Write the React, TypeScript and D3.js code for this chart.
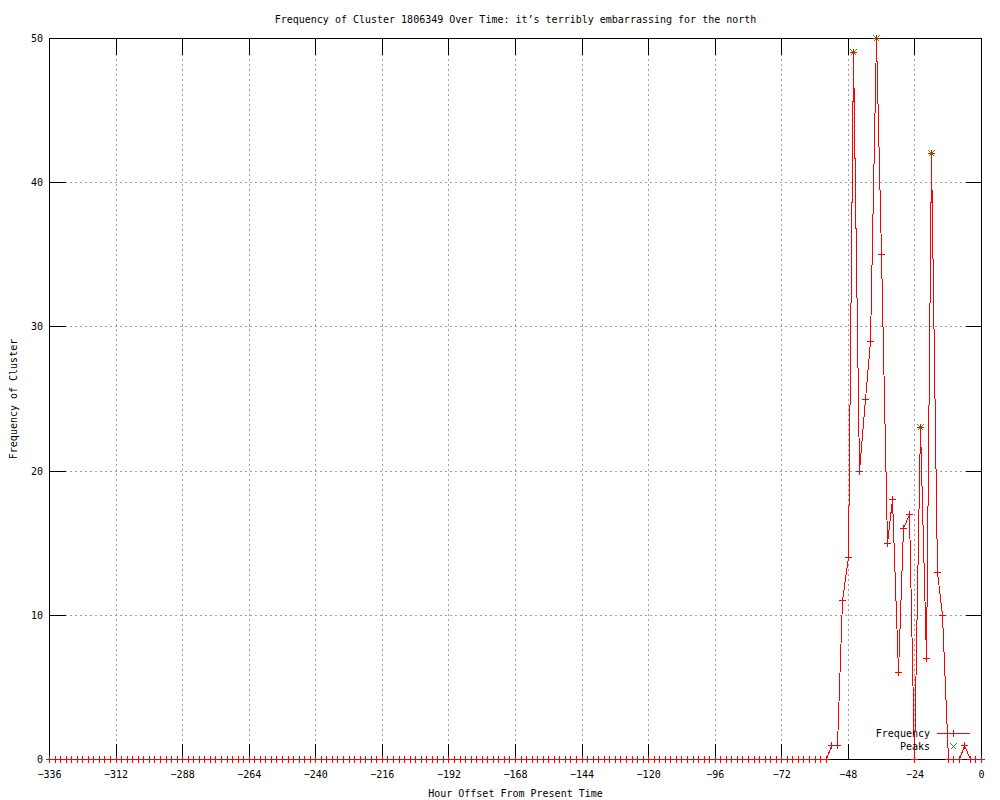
import { useRef, useEffect, RefObject } from 'react';
import * as d3 from 'd3';

// hours before now, sampled every 2 hours
const hours: number[] = d3.range(-336, 1, 2);

// cluster frequency per 2-hour bucket, -336 .. 0
const frequency: number[] = [
  0, 0, 0, 0, 0, 0, 0, 0, 0, 0, 0, 0,
  0, 0, 0, 0, 0, 0, 0, 0, 0, 0, 0, 0,
  0, 0, 0, 0, 0, 0, 0, 0, 0, 0, 0, 0,
  0, 0, 0, 0, 0, 0, 0, 0, 0, 0, 0, 0,
  0, 0, 0, 0, 0, 0, 0, 0, 0, 0, 0, 0,
  0, 0, 0, 0, 0, 0, 0, 0, 0, 0, 0, 0,
  0, 0, 0, 0, 0, 0, 0, 0, 0, 0, 0, 0,
  0, 0, 0, 0, 0, 0, 0, 0, 0, 0, 0, 0,
  0, 0, 0, 0, 0, 0, 0, 0, 0, 0, 0, 0,
  0, 0, 0, 0, 0, 0, 0, 0, 0, 0, 0, 0,
  0, 0, 0, 0, 0, 0, 0, 0, 0, 0, 0, 0,
  0, 0, 0, 0, 0, 0, 0, 0, 0, 1, 1, 11,
  14, 49, 20, 25, 29, 50, 35, 15, 18, 6, 16, 17,
  0, 23, 7, 42, 13, 10, 0, 0, 0, 1, 0, 0,
  0,
];

const peakHours: number[] = [-46, -38, -22, -18];
const peakValues: number[] = [49, 50, 23, 42];

const xTicks: number[] = d3.range(-336, 1, 24);
const yTicks: number[] = [0, 10, 20, 30, 40, 50];

const title = 'Frequency of Cluster 1806349 Over Time: it’s terribly embarrassing for the north';
const xLabel = 'Hour Offset From Present Time';
const yLabel = 'Frequency of Cluster';
const seriesNames: string[] = ['Frequency', 'Peaks'];

const FONT = '"DejaVu Sans Mono", monospace';

const App = () => {
  const svgRef: RefObject<SVGSVGElement> = useRef(null);

  useEffect(() => {
    const width = 1000;
    const height = 800;
    const left = 49.5, right = 981.5, top = 38.5, bottom = 759.5;

    const svg = d3
      .select(svgRef.current)
      .attr('width', width)
      .attr('height', height)
      .style('position', 'absolute')
      .style('left', '0px')
      .style('top', '0px')
      .style('background', '#fff')
      .style('font-family', FONT)
      .style('font-size', '10px');
    svg.selectAll('*').remove();

    const x = d3.scaleLinear().domain([-336, 0]).range([left, right]);
    const y = d3.scaleLinear().domain([0, 50]).range([bottom, top]);
    const snap = (v: number) => Math.round(v - 0.5) + 0.5;
    const fmt = d3.format('d');

    // grid
    const grid = svg.append('g')
      .attr('stroke', '#a0a0a0')
      .attr('stroke-dasharray', '2,3')
      .attr('shape-rendering', 'crispEdges');
    grid.selectAll('line.gx')
      .data(xTicks.slice(1, -1))
      .join('line')
      .attr('x1', (d) => snap(x(d))).attr('x2', (d) => snap(x(d)))
      .attr('y1', top).attr('y2', bottom);
    grid.selectAll('line.gy')
      .data(yTicks.slice(1, -1))
      .join('line')
      .attr('class', 'gy')
      .attr('y1', (d) => snap(y(d))).attr('y2', (d) => snap(y(d)))
      .attr('x1', left).attr('x2', right);

    // border and ticks
    const axes = svg.append('g')
      .attr('stroke', '#000')
      .attr('shape-rendering', 'crispEdges');
    axes.append('rect')
      .attr('x', left).attr('y', top)
      .attr('width', right - left).attr('height', bottom - top)
      .attr('fill', 'none');
    const tl = 16;
    xTicks.forEach((t) => {
      const px = snap(x(t));
      axes.append('line').attr('x1', px).attr('x2', px).attr('y1', bottom).attr('y2', bottom - tl);
      axes.append('line').attr('x1', px).attr('x2', px).attr('y1', top).attr('y2', top + tl);
    });
    yTicks.forEach((t) => {
      const py = snap(y(t));
      axes.append('line').attr('y1', py).attr('y2', py).attr('x1', left).attr('x2', left + tl);
      axes.append('line').attr('y1', py).attr('y2', py).attr('x1', right).attr('x2', right - tl);
    });

    // tick labels
    svg.append('g')
      .selectAll('text')
      .data(xTicks)
      .join('text')
      .attr('x', (d) => x(d))
      .attr('y', 774)
      .attr('dy', '0.35em')
      .attr('text-anchor', 'middle')
      .text((d) => fmt(d));
    svg.append('g')
      .selectAll('text')
      .data(yTicks)
      .join('text')
      .attr('x', 43)
      .attr('y', (d) => y(d))
      .attr('dy', '0.35em')
      .attr('text-anchor', 'end')
      .text((d) => fmt(d));

    // titles
    svg.append('text')
      .attr('x', (left + right) / 2).attr('y', 19).attr('dy', '0.35em')
      .attr('text-anchor', 'middle').text(title);
    svg.append('text')
      .attr('x', (left + right) / 2).attr('y', 793).attr('dy', '0.35em')
      .attr('text-anchor', 'middle').text(xLabel);
    svg.append('text')
      .attr('transform', `translate(13,${(top + bottom) / 2}) rotate(-90)`)
      .attr('dy', '0.35em')
      .attr('text-anchor', 'middle').text(yLabel);

    // peaks (under the frequency markers)
    const cross = 'M-3,-3L3,3M-3,3L3,-3';
    svg.append('g')
      .attr('fill', 'none')
      .attr('stroke', '#00c000')
      .attr('shape-rendering', 'crispEdges')
      .selectAll('path')
      .data(peakHours.map((h, i) => [snap(x(h)), snap(y(peakValues[i]))]))
      .join('path')
      .attr('transform', (d) => `translate(${d[0]},${d[1]})`)
      .attr('d', cross);

    // frequency series
    const pts: [number, number][] = hours.map((h, i) => [snap(x(h)), snap(y(frequency[i]))]);
    svg.append('path')
      .attr('d', d3.line()(pts))
      .attr('fill', 'none')
      .attr('stroke', '#ff0000')
      .attr('stroke-width', 1)
      .attr('shape-rendering', 'crispEdges');
    const plus = 'M-3,0.5H4M0.5,-3V4';
    svg.append('g')
      .attr('fill', 'none')
      .attr('stroke', '#ff0000')
      .attr('shape-rendering', 'crispEdges')
      .selectAll('path')
      .data(pts)
      .join('path')
      .attr('transform', (d) => `translate(${d[0] - 0.5},${d[1] - 0.5})`)
      .attr('d', plus);

    // legend
    const legend = svg.append('g');
    legend.append('text').attr('x', 930).attr('y', 733).attr('dy', '0.35em')
      .attr('text-anchor', 'end').text(seriesNames[0]);
    legend.append('text').attr('x', 930).attr('y', 746).attr('dy', '0.35em')
      .attr('text-anchor', 'end').text(seriesNames[1]);
    legend.append('line')
      .attr('x1', 937).attr('x2', 970).attr('y1', 733.5).attr('y2', 733.5)
      .attr('stroke', '#ff0000').attr('shape-rendering', 'crispEdges');
    legend.append('path')
      .attr('transform', 'translate(953,733)')
      .attr('d', plus)
      .attr('stroke', '#ff0000').attr('fill', 'none').attr('shape-rendering', 'crispEdges');
    legend.append('path')
      .attr('transform', 'translate(953.5,746.5)')
      .attr('d', cross)
      .attr('stroke', '#00c000').attr('fill', 'none').attr('shape-rendering', 'crispEdges');
  }, []);

  return <svg ref={svgRef}></svg>;
};

export default App;
